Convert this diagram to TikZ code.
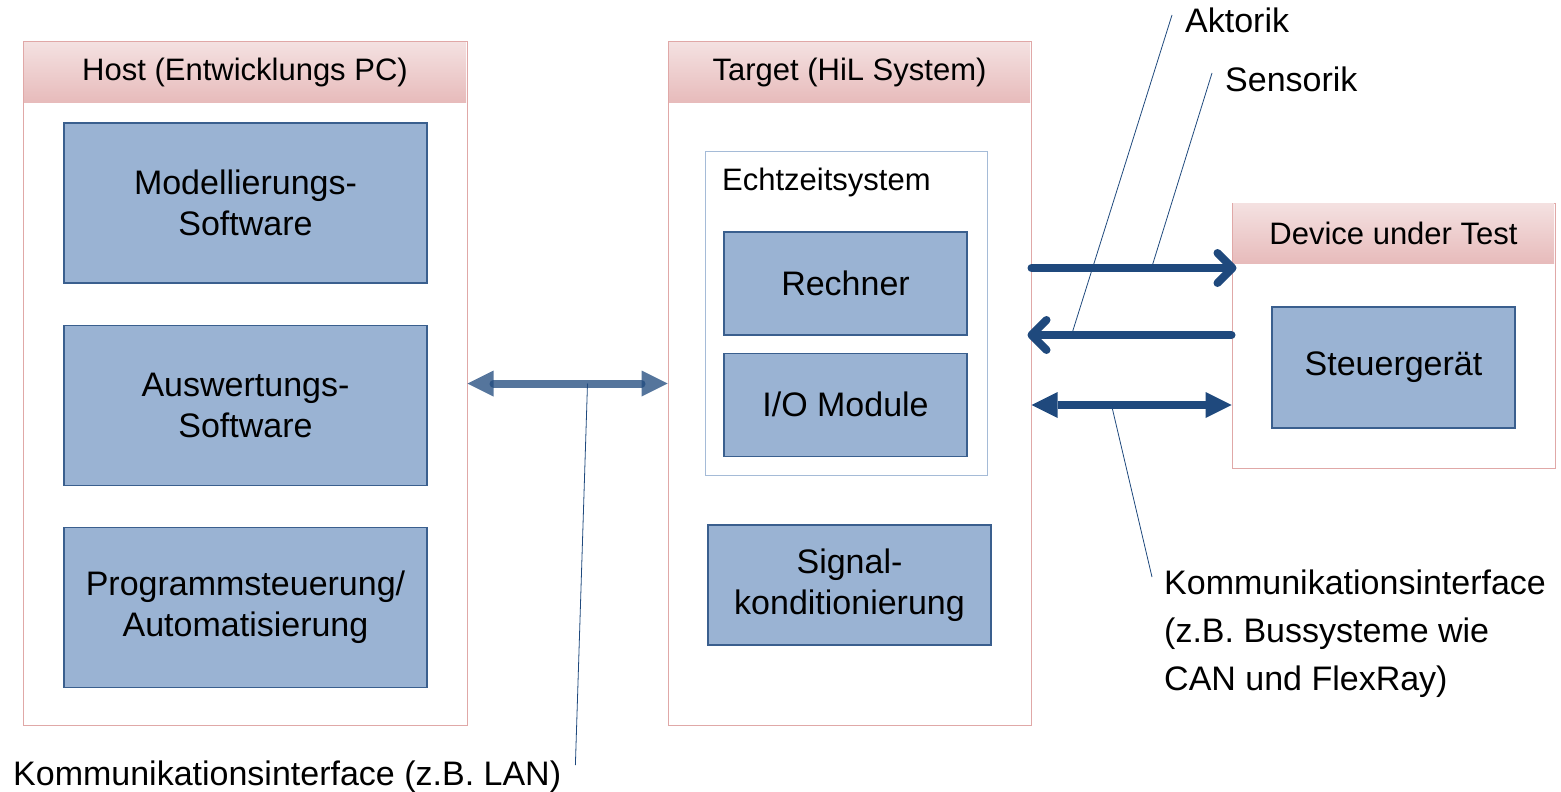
\documentclass[tikz,border=0pt]{standalone}
\usepackage{fontspec}
\setmainfont{Liberation Sans}
\usetikzlibrary{arrows.meta,calc,positioning}

\definecolor{hdtop}{HTML}{F4E1E1}
\definecolor{hdbot}{HTML}{E7BBBB}
\definecolor{framecol}{HTML}{E0A8A7}
\definecolor{boxfill}{HTML}{9AB3D3}
\definecolor{boxline}{HTML}{3A5F8E}
\definecolor{rtline}{HTML}{A5BBD7}
\definecolor{hilblue}{HTML}{1F497D}

\begin{document}
\begin{tikzpicture}[x=1pt,y=-1pt,>=Latex,
  outerbox/.style={draw=framecol,line width=1pt,inner sep=0pt},
  headbox/.style={top color=hdtop,bottom color=hdbot,inner sep=0pt,
    minimum height=60pt,anchor=north,font=\fontsize{31}{37}\selectfont},
  swbox/.style={draw=boxline,fill=boxfill,line width=1.2pt,inner sep=0pt,
    align=center,font=\fontsize{34}{41}\selectfont},
  txt/.style={inner sep=0pt,font=\fontsize{34}{48}\selectfont},
  callout/.style={draw=hilblue,line width=0.8pt},
  sigarrow/.style={draw=hilblue,line width=8pt,line cap=round,
    -{Straight Barb[length=15pt,width=30pt,round]}},
  busarrow/.style={draw=hilblue,line width=8pt,
    {Triangle[length=26pt,width=26pt,line width=0pt]}-{Triangle[length=26pt,width=26pt,line width=0pt]}},
  lanarrow/.style={busarrow,opacity=0.76,line cap=round}]

  % --------- knobs you can tweak ----------
  \def\WH{363pt}   % width of the host boxes
  \def\WR{243pt}   % width of the inner target boxes
  % ----------------------------------------

  \useasboundingbox (0,0) rectangle (1561,792);

  % ============== Host =================
  \node[outerbox,minimum width=444pt,minimum height=683pt] (host) at (245,383.5) {};
  \node[headbox,minimum width=442pt] (hosthead) at ([yshift=-0.5pt]host.north) {Host (Entwicklungs PC)};

  \node[swbox,minimum width=\WH,minimum height=160pt] (model) at (245.5,203) {Modellierungs-\\Software};
  \node[swbox,minimum width=\WH,minimum height=160pt,below=41pt of model] (auswert) {Auswertungs-\\Software};
  \node[swbox,minimum width=\WH,minimum height=160pt,below=41pt of auswert] (prog) {Programmsteuerung/\\Automatisierung};

  % ============== Target (HiL) =================
  \node[outerbox,minimum width=363pt,minimum height=683pt] (target) at (849.5,383.5) {};
  \node[headbox,minimum width=361pt] (targethead) at ([yshift=-0.5pt]target.north) {Target (HiL System)};

  % Echtzeitsystem
  \node[draw=rtline,line width=1pt,minimum width=282pt,minimum height=324pt] (rt) at (846,313) {};
  \node[inner sep=0pt,anchor=base west,font=\fontsize{31}{37}\selectfont] (rtlbl) at (722,190) {Echtzeitsystem};
  \node[swbox,minimum width=\WR,minimum height=103pt] (rechner) at (845.5,283.5) {Rechner};
  \node[swbox,minimum width=\WR,minimum height=103pt,below=17pt of rechner] (io) {I/O Module};

  \node[swbox,minimum width=283pt,minimum height=120pt] (signal) at (849.5,585) {Signal-\\konditionierung};

  % ============== Device under Test =================
  \node[outerbox,minimum width=323pt,minimum height=265pt] (dut) at (1393.5,335.5) {};
  \node[headbox,minimum width=321pt] (duthead) at ([yshift=-0.5pt]dut.north) {Device under Test};
  \node[swbox,minimum width=\WR,minimum height=121pt] (steuer) at (1393.5,367.5) {Steuergerät};

  % Labels outside the boxes
  \node[txt,anchor=base west] (aktlbl) at (1185,33) {Aktorik};
  \node[txt,anchor=base west] (senslbl) at (1225,92) {Sensorik};
  \node[txt,anchor=north west,align=left] (buslbl) at (1164,570) {Kommunikationsinterface\\(z.B. Bussysteme wie\\CAN und FlexRay)};
  \node[txt,anchor=base west] (lanlbl) at (13,785) {Kommunikationsinterface (z.B. LAN)};

  % Points on the connections
  \coordinate (lanmid)  at ($(host.east)!0.6!(target.west)$);
  \coordinate (sensmid) at ($(target.east |- 0,268)!0.6!(dut.west |- 0,268)$);
  \coordinate (aktmid)  at ($(target.east |- 0,335)!0.2!(dut.west |- 0,335)$);
  \coordinate (busmid)  at ($(target.east |- 0,405)!0.4!(dut.west |- 0,405)$);

  % Callout lines
  \draw[callout] (aktmid)  -- ($(aktlbl.base west)+(-13,-18)$);
  \draw[callout] (sensmid) -- ($(senslbl.base west)+(-13,-19)$);
  \draw[callout] (busmid)  -- ($(buslbl.north west)+(-12,7)$);
  \draw[callout] (lanmid)  -- ($(lanlbl.base east)+(14,-20)$);

  % Connections
  \draw[lanarrow] (host.east) -- (target.west);
  \draw[sigarrow] (target.east |- 0,268) -- ($(dut.west |- 0,268)+(5,0)$);
  \draw[sigarrow] (dut.west |- 0,335) -- ($(target.east |- 0,335)+(-4,0)$);
  \draw[busarrow] (target.east |- 0,405) -- (dut.west |- 0,405);

\end{tikzpicture}
\end{document}
